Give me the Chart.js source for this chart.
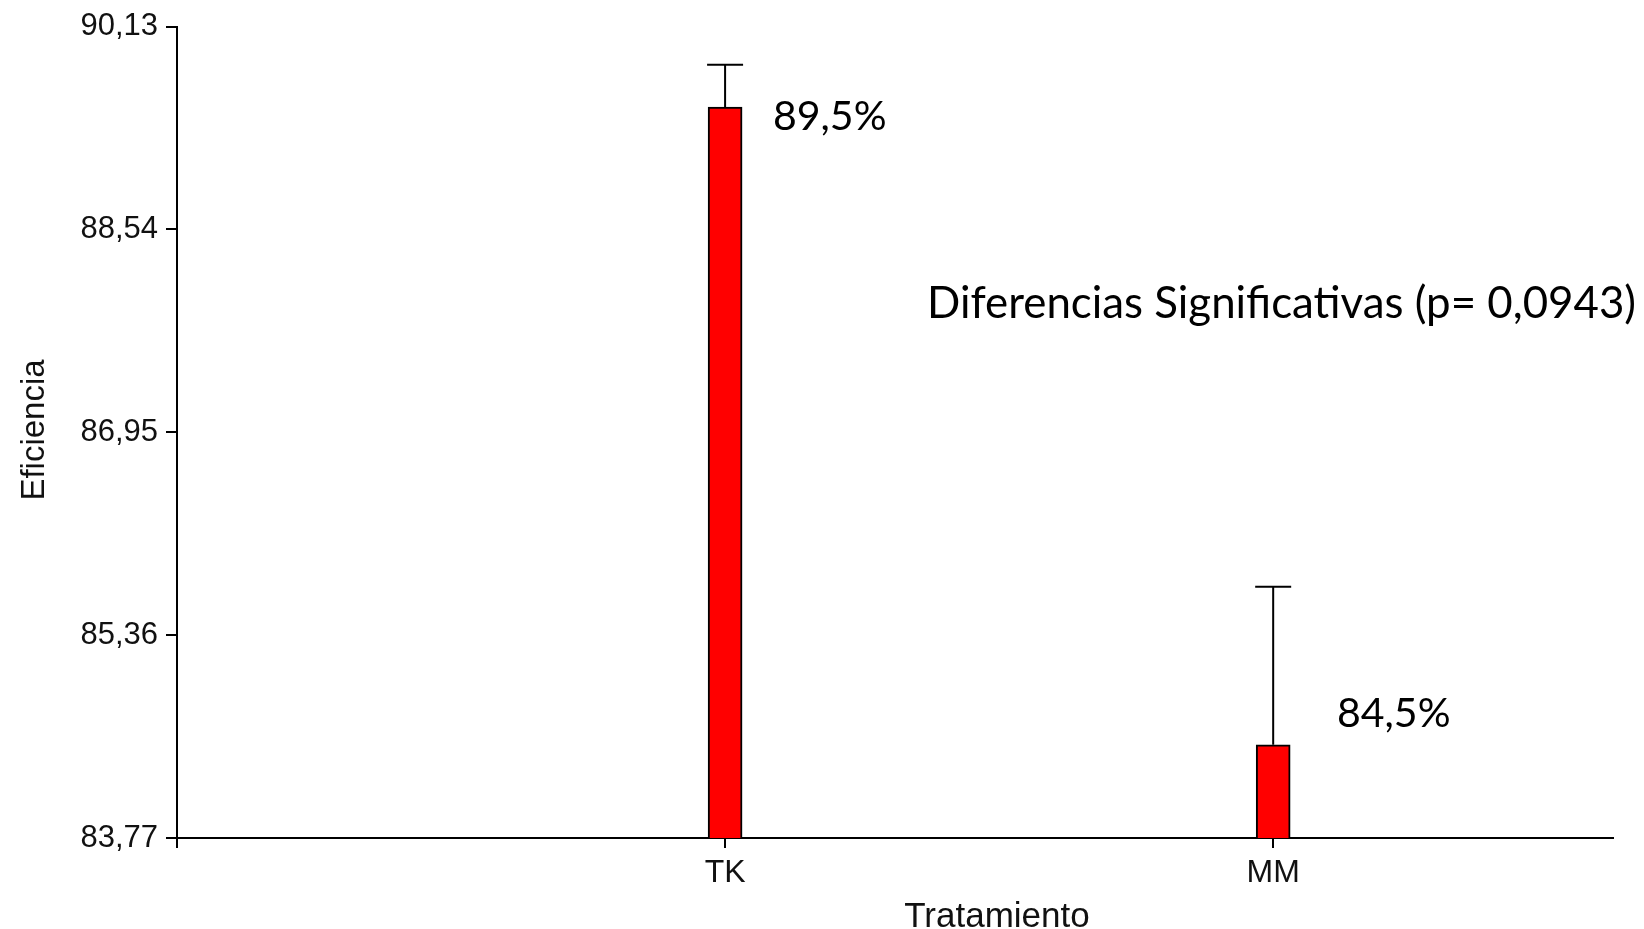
<!DOCTYPE html>
<html>
<head>
<meta charset="utf-8">
<script src="https://cdn.jsdelivr.net/npm/chart.js@4.4.1/dist/chart.umd.min.js"></script>
<style>
  html, body { margin: 0; padding: 0; background: #fff; overflow: hidden; }
  canvas { display: block; }
</style>
</head>
<body>
<canvas id="chart" width="1644" height="929"></canvas>
<script>
// Treatments and mean efficiency (%)
const categories = ['TK', 'MM'];
const efficiency = [89.5, 84.5];
// Upper end of each error bar
const errorUpper = [89.83, 85.74];
// Y axis ticks and their printed labels
const yTicks = [83.77, 85.36, 86.95, 88.54, 90.13];
const yTickLabels = ['83,77', '85,36', '86,95', '88,54', '90,13'];
const xTitle = 'Tratamiento';
const yTitle = 'Eficiencia';
const noteText = 'Diferencias Significativas (p= 0,0943)';

const AXIS_FONT = "'Liberation Sans', Arial, sans-serif";
const NOTE_FONT = "Lato, 'Open Sans', sans-serif";
const pct = v => v.toFixed(1).replace('.', ',') + '%';

// Error bars: a vertical whisker from the bar top with a horizontal cap
const errorBars = {
  id: 'errorBars',
  afterDatasetsDraw(chart) {
    const { ctx, scales: { x, y } } = chart;
    ctx.save();
    ctx.strokeStyle = '#000';
    ctx.lineWidth = 2;
    categories.forEach((c, i) => {
      const px = x.getPixelForValue(i + 1);
      const top = y.getPixelForValue(errorUpper[i]);
      const base = y.getPixelForValue(efficiency[i]);
      ctx.beginPath();
      ctx.moveTo(px, base);
      ctx.lineTo(px, top);
      ctx.moveTo(px - 18, top);
      ctx.lineTo(px + 18, top);
      ctx.stroke();
    });
    ctx.restore();
  }
};

// Axis titles, value labels and the significance note
const annotations = {
  id: 'annotations',
  afterDraw(chart) {
    const { ctx } = chart;
    ctx.save();
    ctx.fillStyle = '#111';
    ctx.textAlign = 'center';
    ctx.textBaseline = 'alphabetic';
    ctx.font = `35px ${AXIS_FONT}`;
    ctx.fillText(xTitle, 997, 927);
    ctx.font = `33px ${AXIS_FONT}`;
    ctx.translate(44, 430);
    ctx.rotate(-Math.PI / 2);
    ctx.fillText(yTitle, 0, 0);
    ctx.restore();

    ctx.save();
    ctx.fillStyle = '#000';
    ctx.textAlign = 'left';
    ctx.textBaseline = 'alphabetic';
    ctx.font = `41px ${NOTE_FONT}`;
    const labelPos = [[773, 130, 118], [1337, 727, 114]];
    efficiency.forEach((v, i) => {
      const [lx, ly, w] = labelPos[i];
      ctx.fillText(pct(v), lx, ly, w);
    });
    ctx.font = `44px ${NOTE_FONT}`;
    ctx.fillText(noteText, 927, 318, 709);
    ctx.restore();
  }
};

new Chart(document.getElementById('chart'), {
  type: 'bar',
  data: {
    datasets: [{
      data: categories.map((c, i) => ({ x: i + 1, y: efficiency[i] })),
      backgroundColor: '#ff0000',
      borderColor: '#000',
      borderWidth: 2,
      barThickness: 34,
      borderSkipped: 'start'
    }]
  },
  options: {
    responsive: false,
    animation: false,
    devicePixelRatio: 1,
    layout: { padding: { left: 0, top: 25, right: 31, bottom: 0 } },
    plugins: { legend: { display: false }, tooltip: { enabled: false } },
    scales: {
      x: {
        type: 'linear',
        offset: false,
        min: 0,
        max: 2.62,
        afterBuildTicks(axis) {
          axis.ticks = [{ value: 0 }].concat(categories.map((c, i) => ({ value: i + 1 })));
        },
        afterFit(axis) { axis.height = 91; },
        ticks: {
          callback: v => (v >= 1 ? categories[v - 1] : ''),
          font: { family: AXIS_FONT, size: 32 },
          color: '#111',
          padding: 6,
          maxRotation: 0,
          autoSkip: false
        },
        grid: { offset: false, drawOnChartArea: false, drawTicks: true, tickLength: 10, color: '#000', lineWidth: 2 },
        border: { display: true, color: '#000', width: 2 }
      },
      y: {
        min: yTicks[0],
        max: yTicks[yTicks.length - 1],
        afterBuildTicks(axis) {
          axis.ticks = yTicks.map(v => ({ value: v }));
        },
        afterFit(axis) { axis.width = 177; },
        ticks: {
          callback: (v, i) => yTickLabels[i],
          font: { family: AXIS_FONT, size: 31 },
          color: '#111',
          padding: 8,
          autoSkip: false
        },
        grid: { drawOnChartArea: false, drawTicks: true, tickLength: 11, color: '#000', lineWidth: 2 },
        border: { display: true, color: '#000', width: 2 }
      }
    }
  },
  plugins: [errorBars, annotations]
});
</script>
</body>
</html>
